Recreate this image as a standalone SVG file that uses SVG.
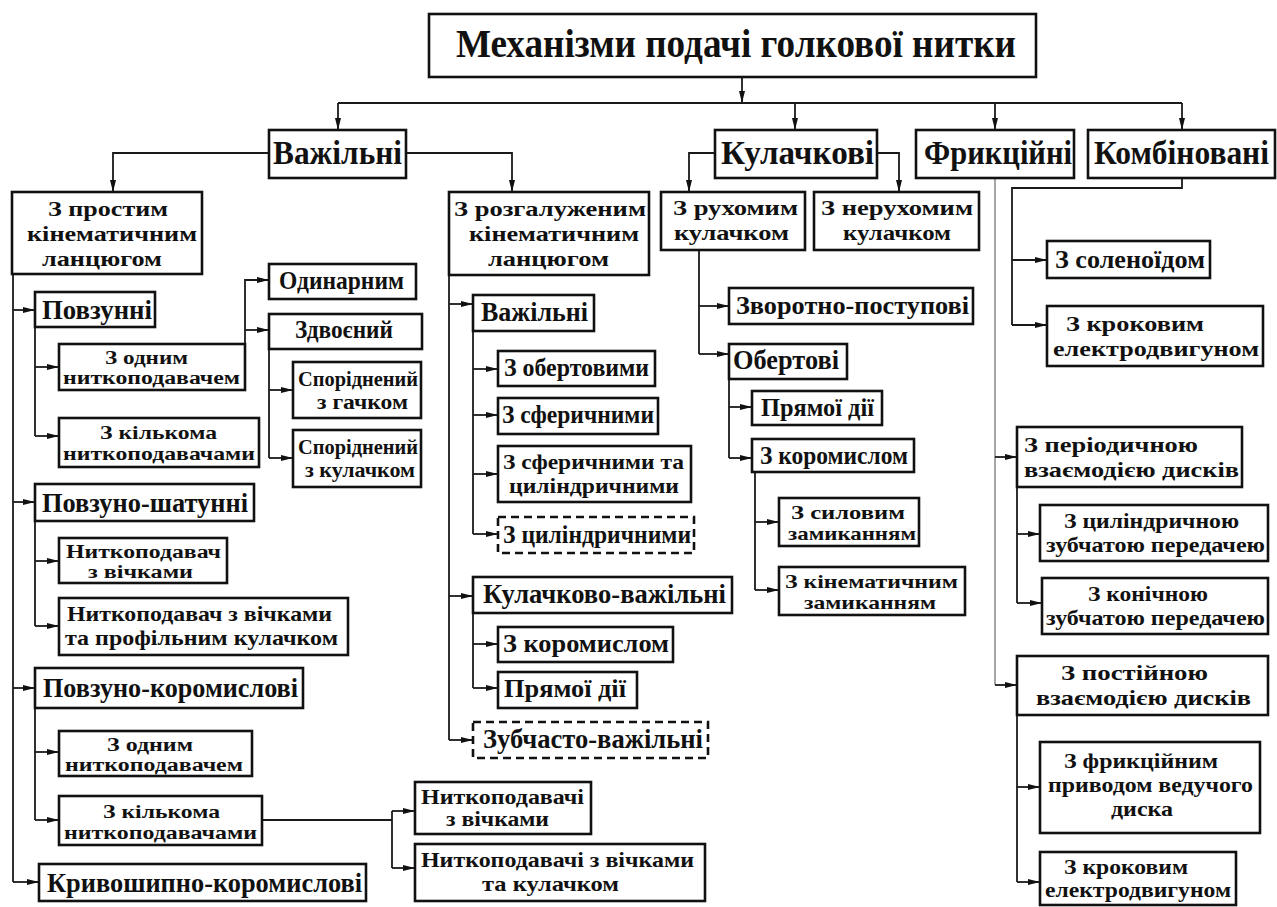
<svg xmlns="http://www.w3.org/2000/svg" width="1277" height="907" viewBox="0 0 1277 907">
<style>
.b{fill:#fff;stroke:#111;stroke-width:2.6}
.d{fill:#fff;stroke:#111;stroke-width:2.6;stroke-dasharray:8 5}
text{font-family:'Liberation Serif','DejaVu Serif','Times New Roman',serif;font-weight:bold;fill:#111}
.c path{fill:none;stroke:#1a1a1a;stroke-width:1.8}
.c path.g{stroke:#777;stroke-width:1.3}
.ar{marker-end:url(#a)}
</style>
<defs>
<marker id="a" markerUnits="userSpaceOnUse" markerWidth="13" markerHeight="7" refX="12" refY="3.5" orient="auto"><path d="M0,0.5 L12,3.5 L0,6.5 z" fill="#111"/></marker>
</defs>
<rect width="1277" height="907" fill="#fff"/>
<g class="c" id="connectors">
<path class="ar" d="M742,77 V103"/>
<path d="M338,103 H1182"/>
<path class="ar" d="M338,103 V130"/>
<path class="ar" d="M795,103 V130"/>
<path class="ar" d="M995,103 V130"/>
<path class="ar" d="M1182,103 V130"/>
<path class="ar" d="M269,153 H113 V192"/>
<path class="ar" d="M406,153 H512 V192"/>
<path class="ar" d="M715,153 H689 V192"/>
<path class="ar" d="M877,153 H899 V192"/>
<path class="g" d="M995,178 V685"/>
<path class="ar" d="M995,457 H1017"/>
<path class="ar" d="M995,685 H1017"/>
<path d="M1182,178 V188 H1012 V325"/>
<path class="ar" d="M1012,260 H1047"/>
<path class="ar" d="M1012,325 H1047"/>
<path d="M1017,487 V603"/>
<path class="ar" d="M1017,534 H1040"/>
<path class="ar" d="M1017,603 H1042"/>
<path d="M1017,715 V882"/>
<path class="ar" d="M1017,787 H1040"/>
<path class="ar" d="M1017,882 H1040"/>
<path d="M13,274 V882"/>
<path class="ar" d="M13,310 H35"/>
<path class="ar" d="M13,502 H35"/>
<path class="ar" d="M13,688 H35"/>
<path class="ar" d="M13,882 H39"/>
<path d="M35,327 V436"/>
<path class="ar" d="M35,367 H59"/>
<path class="ar" d="M35,436 H59"/>
<path class="ar" d="M245,344 V280 H269"/>
<path class="ar" d="M245,330 H269"/>
<path d="M269,349 V458"/>
<path class="ar" d="M269,390 H293"/>
<path class="ar" d="M269,458 H293"/>
<path d="M35,521 V626"/>
<path class="ar" d="M35,561 H59"/>
<path class="ar" d="M35,626 H59"/>
<path d="M35,708 V820"/>
<path class="ar" d="M35,752 H59"/>
<path class="ar" d="M35,820 H59"/>
<path d="M262,820 H392"/>
<path d="M392,811 V868"/>
<path class="ar" d="M392,811 H415"/>
<path class="ar" d="M392,868 H415"/>
<path d="M449,275 V740"/>
<path class="ar" d="M449,304 H473"/>
<path class="ar" d="M449,596 H473"/>
<path class="ar" d="M449,740 H473"/>
<path d="M473,331 V534"/>
<path class="ar" d="M473,369 H498"/>
<path class="ar" d="M473,415 H498"/>
<path class="ar" d="M473,474 H498"/>
<path class="ar" d="M473,534 H498"/>
<path d="M473,613 V688"/>
<path class="ar" d="M473,644 H498"/>
<path class="ar" d="M473,688 H498"/>
<path d="M699,250 V354"/>
<path class="ar" d="M699,306 H729"/>
<path class="ar" d="M699,354 H729"/>
<path d="M729,379 V458"/>
<path class="ar" d="M729,407 H752"/>
<path class="ar" d="M729,458 H752"/>
<path d="M755,472 V590"/>
<path class="ar" d="M755,522 H779"/>
<path class="ar" d="M755,590 H779"/>
</g>
<g id="n0"><rect class="b" x="429" y="14" width="607" height="63"/><text x="456" y="57" font-size="39" textLength="560" lengthAdjust="spacingAndGlyphs">Механізми подачі голкової нитки</text></g>
<g id="n1"><rect class="b" x="269" y="130" width="137" height="48"/><text x="273" y="164" font-size="33" textLength="129" lengthAdjust="spacingAndGlyphs">Важільні</text></g>
<g id="n2"><rect class="b" x="715" y="130" width="162" height="48"/><text x="721" y="164" font-size="33" textLength="153" lengthAdjust="spacingAndGlyphs">Кулачкові</text></g>
<g id="n3"><rect class="b" x="916" y="130" width="158" height="48"/><text x="924" y="164" font-size="33" textLength="148" lengthAdjust="spacingAndGlyphs">Фрикційні</text></g>
<g id="n4"><rect class="b" x="1088" y="130" width="187" height="48"/><text x="1094" y="164" font-size="33" textLength="175" lengthAdjust="spacingAndGlyphs">Комбіновані</text></g>
<g id="n5"><rect class="b" x="12" y="192" width="190" height="82"/><text font-size="22" x="48" y="216" textLength="120" lengthAdjust="spacingAndGlyphs">З простим</text><text font-size="22" x="27" y="241" textLength="170" lengthAdjust="spacingAndGlyphs">кінематичним</text><text font-size="22" x="42" y="266" textLength="120" lengthAdjust="spacingAndGlyphs">ланцюгом</text></g>
<g id="n6"><rect class="b" x="449" y="192" width="200" height="83"/><text font-size="22" x="454" y="216" textLength="192" lengthAdjust="spacingAndGlyphs">З розгалуженим</text><text font-size="22" x="469" y="241" textLength="170" lengthAdjust="spacingAndGlyphs">кінематичним</text><text font-size="22" x="488" y="266" textLength="121" lengthAdjust="spacingAndGlyphs">ланцюгом</text></g>
<g id="n7"><rect class="b" x="661" y="192" width="144" height="58"/><text font-size="22" x="673" y="215" textLength="125" lengthAdjust="spacingAndGlyphs">З рухомим</text><text font-size="22" x="674" y="240" textLength="115" lengthAdjust="spacingAndGlyphs">кулачком</text></g>
<g id="n8"><rect class="b" x="814" y="192" width="165" height="58"/><text font-size="22" x="821" y="215" textLength="152" lengthAdjust="spacingAndGlyphs">З нерухомим</text><text font-size="22" x="843" y="240" textLength="108" lengthAdjust="spacingAndGlyphs">кулачком</text></g>
<g id="n9"><rect class="b" x="35" y="292" width="120" height="35"/><text font-size="27" x="42" y="319" textLength="110" lengthAdjust="spacingAndGlyphs">Повзунні</text></g>
<g id="n10"><rect class="b" x="59" y="344" width="186" height="46"/><text font-size="18" x="105" y="364" textLength="83" lengthAdjust="spacingAndGlyphs">З одним</text><text font-size="18" x="63" y="384" textLength="177" lengthAdjust="spacingAndGlyphs">ниткоподавачем</text></g>
<g id="n11"><rect class="b" x="59" y="418" width="200" height="49"/><text font-size="19" x="100" y="439" textLength="117" lengthAdjust="spacingAndGlyphs">З кількома</text><text font-size="19" x="63" y="460" textLength="192" lengthAdjust="spacingAndGlyphs">ниткоподавачами</text></g>
<g id="n12"><rect class="b" x="269" y="264" width="147" height="35"/><text font-size="26" x="279" y="289" textLength="125" lengthAdjust="spacingAndGlyphs">Одинарним</text></g>
<g id="n13"><rect class="b" x="269" y="314" width="153" height="35"/><text font-size="25" x="295" y="338" textLength="98" lengthAdjust="spacingAndGlyphs">Здвоєний</text></g>
<g id="n14"><rect class="b" x="293" y="362" width="128" height="56"/><text font-size="20" x="298" y="386" textLength="120" lengthAdjust="spacingAndGlyphs">Споріднений</text><text font-size="20" x="317" y="409" textLength="91" lengthAdjust="spacingAndGlyphs">з гачком</text></g>
<g id="n15"><rect class="b" x="293" y="430" width="128" height="57"/><text font-size="20" x="298" y="454" textLength="120" lengthAdjust="spacingAndGlyphs">Споріднений</text><text font-size="20" x="305" y="477" textLength="110" lengthAdjust="spacingAndGlyphs">з кулачком</text></g>
<g id="n16"><rect class="b" x="35" y="484" width="219" height="37"/><text font-size="27" x="42" y="512" textLength="206" lengthAdjust="spacingAndGlyphs">Повзуно-шатунні</text></g>
<g id="n17"><rect class="b" x="59" y="538" width="168" height="45"/><text font-size="18" x="66" y="558" textLength="155" lengthAdjust="spacingAndGlyphs">Ниткоподавач</text><text font-size="18" x="88" y="578" textLength="105" lengthAdjust="spacingAndGlyphs">з вічками</text></g>
<g id="n18"><rect class="b" x="59" y="598" width="289" height="57"/><text font-size="21" x="67" y="621" textLength="265" lengthAdjust="spacingAndGlyphs">Ниткоподавач з вічками</text><text font-size="21" x="65" y="645" textLength="273" lengthAdjust="spacingAndGlyphs">та профільним кулачком</text></g>
<g id="n19"><rect class="b" x="35" y="668" width="268" height="40"/><text font-size="27" x="43" y="697" textLength="255" lengthAdjust="spacingAndGlyphs">Повзуно-коромислові</text></g>
<g id="n20"><rect class="b" x="59" y="731" width="193" height="45"/><text font-size="18" x="107" y="751" textLength="86" lengthAdjust="spacingAndGlyphs">З одним</text><text font-size="18" x="65" y="771" textLength="178" lengthAdjust="spacingAndGlyphs">ниткоподавачем</text></g>
<g id="n21"><rect class="b" x="59" y="796" width="203" height="49"/><text font-size="19" x="103" y="818" textLength="117" lengthAdjust="spacingAndGlyphs">З кількома</text><text font-size="19" x="64" y="839" textLength="193" lengthAdjust="spacingAndGlyphs">ниткоподавачами</text></g>
<g id="n22"><rect class="b" x="39" y="864" width="327" height="37"/><text font-size="28" x="47" y="892" textLength="315" lengthAdjust="spacingAndGlyphs">Кривошипно-коромислові</text></g>
<g id="n23"><rect class="b" x="415" y="782" width="176" height="52"/><text font-size="20" x="421" y="804" textLength="163" lengthAdjust="spacingAndGlyphs">Ниткоподавачі</text><text font-size="20" x="446" y="826" textLength="103" lengthAdjust="spacingAndGlyphs">з вічками</text></g>
<g id="n24"><rect class="b" x="415" y="844" width="290" height="57"/><text font-size="21" x="421" y="867" textLength="273" lengthAdjust="spacingAndGlyphs">Ниткоподавачі з вічками</text><text font-size="21" x="482" y="891" textLength="137" lengthAdjust="spacingAndGlyphs">та кулачком</text></g>
<g id="n25"><rect class="b" x="473" y="295" width="121" height="36"/><text font-size="27" x="481" y="321" textLength="107" lengthAdjust="spacingAndGlyphs">Важільні</text></g>
<g id="n26"><rect class="b" x="498" y="351" width="157" height="35"/><text font-size="26" x="504" y="376" textLength="145" lengthAdjust="spacingAndGlyphs">З обертовими</text></g>
<g id="n27"><rect class="b" x="498" y="398" width="160" height="36"/><text font-size="26" x="502" y="423" textLength="152" lengthAdjust="spacingAndGlyphs">З сферичними</text></g>
<g id="n28"><rect class="b" x="498" y="446" width="193" height="56"/><text font-size="21" x="503" y="469" textLength="181" lengthAdjust="spacingAndGlyphs">З сферичними та</text><text font-size="21" x="509" y="493" textLength="170" lengthAdjust="spacingAndGlyphs">циліндричними</text></g>
<g id="n29"><rect class="d" x="498" y="517" width="196" height="36"/><text font-size="25" x="503" y="543" textLength="188" lengthAdjust="spacingAndGlyphs">З циліндричними</text></g>
<g id="n30"><rect class="b" x="473" y="577" width="259" height="36"/><text font-size="27" x="483" y="603" textLength="243" lengthAdjust="spacingAndGlyphs">Кулачково-важільні</text></g>
<g id="n31"><rect class="b" x="498" y="627" width="175" height="35"/><text font-size="26" x="503" y="652" textLength="166" lengthAdjust="spacingAndGlyphs">З коромислом</text></g>
<g id="n32"><rect class="b" x="498" y="672" width="139" height="36"/><text font-size="26" x="504" y="697" textLength="122" lengthAdjust="spacingAndGlyphs">Прямої дії</text></g>
<g id="n33"><rect class="d" x="473" y="722" width="235" height="36"/><text font-size="27" x="483" y="748" textLength="220" lengthAdjust="spacingAndGlyphs">Зубчасто-важільні</text></g>
<g id="n34"><rect class="b" x="729" y="288" width="244" height="36"/><text font-size="26" x="736" y="314" textLength="233" lengthAdjust="spacingAndGlyphs">Зворотно-поступові</text></g>
<g id="n35"><rect class="b" x="729" y="344" width="118" height="35"/><text font-size="27" x="733" y="369" textLength="106" lengthAdjust="spacingAndGlyphs">Обертові</text></g>
<g id="n36"><rect class="b" x="752" y="391" width="130" height="34"/><text font-size="25" x="761" y="416" textLength="113" lengthAdjust="spacingAndGlyphs">Прямої дії</text></g>
<g id="n37"><rect class="b" x="752" y="439" width="162" height="33"/><text font-size="25" x="760" y="464" textLength="148" lengthAdjust="spacingAndGlyphs">З коромислом</text></g>
<g id="n38"><rect class="b" x="779" y="498" width="140" height="48"/><text font-size="19" x="791" y="519" textLength="114" lengthAdjust="spacingAndGlyphs">З силовим</text><text font-size="19" x="788" y="540" textLength="128" lengthAdjust="spacingAndGlyphs">замиканням</text></g>
<g id="n39"><rect class="b" x="779" y="567" width="186" height="48"/><text font-size="19" x="785" y="588" textLength="173" lengthAdjust="spacingAndGlyphs">З кінематичним</text><text font-size="19" x="804" y="609" textLength="132" lengthAdjust="spacingAndGlyphs">замиканням</text></g>
<g id="n40"><rect class="b" x="1047" y="241" width="163" height="37"/><text font-size="25" x="1055" y="268" textLength="150" lengthAdjust="spacingAndGlyphs">З соленоїдом</text></g>
<g id="n41"><rect class="b" x="1047" y="306" width="216" height="60"/><text font-size="22" x="1066" y="331" textLength="138" lengthAdjust="spacingAndGlyphs">З кроковим</text><text font-size="22" x="1053" y="356" textLength="206" lengthAdjust="spacingAndGlyphs">електродвигуном</text></g>
<g id="n42"><rect class="b" x="1017" y="427" width="225" height="60"/><text font-size="22" x="1024" y="452" textLength="174" lengthAdjust="spacingAndGlyphs">З періодичною</text><text font-size="22" x="1024" y="477" textLength="215" lengthAdjust="spacingAndGlyphs">взаємодією дисків</text></g>
<g id="n43"><rect class="b" x="1040" y="505" width="228" height="56"/><text font-size="21" x="1064" y="528" textLength="175" lengthAdjust="spacingAndGlyphs">З циліндричною</text><text font-size="21" x="1046" y="552" textLength="219" lengthAdjust="spacingAndGlyphs">зубчатою передачею</text></g>
<g id="n44"><rect class="b" x="1042" y="578" width="226" height="56"/><text font-size="21" x="1088" y="601" textLength="120" lengthAdjust="spacingAndGlyphs">З конічною</text><text font-size="21" x="1046" y="625" textLength="219" lengthAdjust="spacingAndGlyphs">зубчатою передачею</text></g>
<g id="n45"><rect class="b" x="1017" y="656" width="251" height="59"/><text font-size="22" x="1061" y="680" textLength="147" lengthAdjust="spacingAndGlyphs">З постійною</text><text font-size="22" x="1036" y="705" textLength="215" lengthAdjust="spacingAndGlyphs">взаємодією дисків</text></g>
<g id="n46"><rect class="b" x="1040" y="742" width="220" height="91"/><text font-size="21" x="1064" y="768" textLength="154" lengthAdjust="spacingAndGlyphs">З фрикційним</text><text font-size="21" x="1048" y="792" textLength="205" lengthAdjust="spacingAndGlyphs">приводом ведучого</text><text font-size="21" x="1111" y="816" textLength="62" lengthAdjust="spacingAndGlyphs">диска</text></g>
<g id="n47"><rect class="b" x="1040" y="852" width="196" height="53"/><text font-size="20" x="1064" y="874" textLength="124" lengthAdjust="spacingAndGlyphs">З кроковим</text><text font-size="20" x="1045" y="897" textLength="186" lengthAdjust="spacingAndGlyphs">електродвигуном</text></g>
</svg>
